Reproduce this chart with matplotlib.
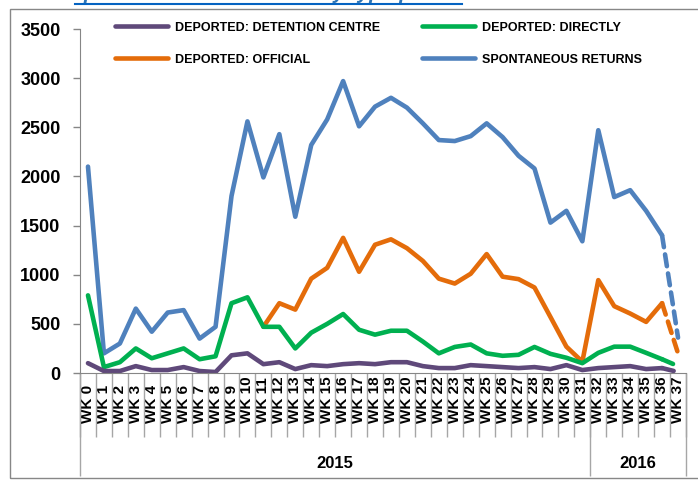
import matplotlib
matplotlib.use("Agg")
import matplotlib.pyplot as plt
from matplotlib.patches import Rectangle
from matplotlib.lines import Line2D

plt.rcParams['font.family'] = ['Liberation Sans', 'DejaVu Sans']

weeks = [f"WK {i}" for i in range(38)]
years = ["2015", "2016"]
year_weeks = [32, 6]

detention = [100, 20, 20, 70, 30, 30, 60, 20, 10, 180, 200, 90, 110, 40, 80, 70, 90, 100, 90,
             110, 110, 70, 50, 50, 80, 70, 60, 50, 60, 40, 80, 30, 50, 60, 70, 40, 50, 10]
directly = [790, 60, 110, 250, 150, 200, 250, 140, 170, 710, 770, 470, 470, 250, 410, 500, 600,
            440, 390, 430, 430, 320, 200, 265, 290, 200, 175, 185, 265, 195, 155, 100, 205, 268,
            268, 205, 140, 70]
official = [None] * 11 + [470, 710, 645, 960, 1070, 1375, 1030, 1305, 1360, 1270, 1140, 960, 910,
                          1010, 1210, 980, 955, 870, 570, 268, 115, 945, 680, 605, 520, 710, 200]
spontaneous = [2100, 200, 300, 655, 420, 615, 640, 350, 470, 1800, 2560, 1990, 2430, 1590, 2320,
               2580, 2970, 2510, 2710, 2800, 2700, 2540, 2370, 2360, 2410, 2540, 2400, 2210, 2080,
               1530, 1650, 1340, 2470, 1790, 1860, 1650, 1400, 360]

series = [
    ("DEPORTED: DETENTION CENTRE", detention, "#5F497A"),
    ("DEPORTED: OFFICIAL", official, "#E46C0A"),
    ("DEPORTED: DIRECTLY", directly, "#00B050"),
    ("SPONTANEOUS RETURNS", spontaneous, "#4F81BD"),
]
draw_order = [3, 1, 2, 0]

fig = plt.figure(figsize=(6.98, 4.84), dpi=100)
ax = fig.add_axes([80 / 698, 1 - 373 / 484, 606 / 698, 344 / 484])

x = list(range(len(weeks)))
handles = {}
for k in draw_order:
    name, vals, col = series[k]
    xs = [i for i in x[:-1] if vals[i] is not None]
    ys = [vals[i] for i in xs]
    ln, = ax.plot(xs, ys, color=col, lw=3.3, solid_capstyle='round', solid_joinstyle='round',
                  label=name)
    # last week is incomplete -> dashed
    ax.plot(x[-2:], vals[-2:], color=col, lw=3.3, linestyle=(0, (2.6, 1.6)),
            dash_capstyle='round')
    handles[k] = ln

ax.set_xlim(-0.5, len(weeks) - 0.5)
ax.set_ylim(0, 3500)
ax.set_yticks(range(0, 3501, 500))
for lab in ax.get_yticklabels():
    lab.set_fontweight('bold')
ax.tick_params(axis='y', length=5, width=1, color='#868686', labelsize=13, pad=9)

for s in ['top', 'right']:
    ax.spines[s].set_visible(False)
ax.spines['left'].set_color('#868686')
ax.spines['bottom'].set_color('#868686')

ax.set_xticks(x)
ax.set_xticklabels(weeks, rotation=90, fontweight='bold', fontsize=11, va='bottom')
ax.tick_params(axis='x', which='major', length=0, pad=36)
ax.set_xticks([i - 0.5 for i in range(len(weeks) + 1)], minor=True)
ax.tick_params(axis='x', which='minor', length=46, width=1, color='#A6A6A6')

# year groups
sec = ax.secondary_xaxis('bottom')
bounds = [-0.5]
for n in year_weeks:
    bounds.append(bounds[-1] + n)
sec.set_xticks(bounds)
sec.set_xticklabels([''] * len(bounds))
sec.tick_params(axis='x', length=74, width=1, color='#A6A6A6')
centers = [(bounds[i] + bounds[i + 1]) / 2 for i in range(len(years))]
sec.set_xticks(centers, minor=True)
sec.set_xticklabels(years, minor=True, fontweight='bold', fontsize=12)
sec.tick_params(axis='x', which='minor', length=0, pad=60)
sec.spines['bottom'].set_visible(False)

leg = ax.legend([handles[0], handles[1], handles[2], handles[3]],
                [series[0][0], series[1][0], series[2][0], series[3][0]],
                ncol=2, frameon=False, loc='upper left', bbox_to_anchor=(0.058, 1.021),
                prop={'weight': 'bold', 'size': 9}, handlelength=4.25, handletextpad=0.5,
                columnspacing=3.4, labelspacing=1.6, borderpad=0, borderaxespad=0)

# outer chart border
fig.patches.append(Rectangle((10 / 698, 1 - 478 / 484), 700 / 698, 469 / 484,
                             transform=fig.transFigure, fill=False, edgecolor='#878787', lw=1))

# clipped title above the chart
fig.text(268 / 698, 1 + 1 / 484, "Graph 2: Returns from Iran by type per week",
         color='#2E75B6', fontsize=15, fontweight='bold', style='italic',
         ha='center', va='baseline')
fig.add_artist(Line2D([75 / 698, 462 / 698], [1 - 4 / 484, 1 - 4 / 484],
                      transform=fig.transFigure, color='#0563C1', lw=1.5))

fig.savefig("out.png", dpi=100)
